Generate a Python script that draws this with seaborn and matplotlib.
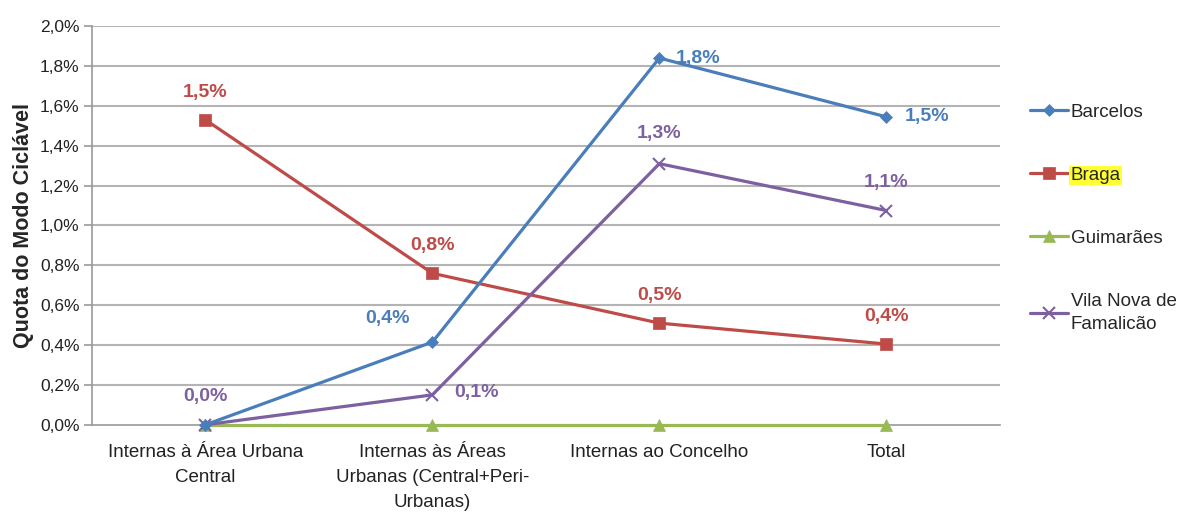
import matplotlib
matplotlib.use("Agg")
import matplotlib.pyplot as plt
import seaborn as sns
import pandas as pd
import numpy as np

categories = ["Internas à Área Urbana\nCentral",
              "Internas às Áreas\nUrbanas (Central+Peri-\nUrbanas)",
              "Internas ao Concelho",
              "Total"]
series_names = ["Barcelos", "Braga", "Guimarães", "Vila Nova de\nFamalicão"]
barcelos = [0.0, 0.415, 1.84, 1.545]
braga = [1.53, 0.76, 0.51, 0.405]
guimaraes = [0.0, 0.0, 0.0, 0.0]
famalicao = [0.0, 0.15, 1.31, 1.075]
barcelos_labels = [None, "0,4%", "1,8%", "1,5%"]
braga_labels = ["1,5%", "0,8%", "0,5%", "0,4%"]
famalicao_labels = ["0,0%", "0,1%", "1,3%", "1,1%"]
yticks = [0.0, 0.2, 0.4, 0.6, 0.8, 1.0, 1.2, 1.4, 1.6, 1.8, 2.0]

sns.set_theme(style="white")
plt.rcParams['font.family'] = ['Liberation Sans', 'DejaVu Sans']

colors = {"Barcelos": "#4A7EBB", "Braga": "#BE4B48", "Guimarães": "#98B954",
          "Vila Nova de\nFamalicão": "#7D60A0"}
markers = {"Barcelos": "D", "Braga": "s", "Guimarães": "^", "Vila Nova de\nFamalicão": "x"}
msizes = {"Barcelos": 6.5, "Braga": 9, "Guimarães": 8, "Vila Nova de\nFamalicão": 9}

fig = plt.figure(figsize=(11.79, 5.13), dpi=100)
ax = fig.add_axes([0.078, 0.172, 0.770, 0.777])

for y in yticks[1:]:
    ax.axhline(y, color="#B4B4B4", lw=1.5, zorder=0)

data = {"Barcelos": barcelos, "Braga": braga, "Guimarães": guimaraes,
        "Vila Nova de\nFamalicão": famalicao}
order = ["Guimarães", "Braga", "Vila Nova de\nFamalicão", "Barcelos"]
x = np.arange(len(categories))
for name in order:
    df = pd.DataFrame({"x": x, "y": data[name]})
    sns.lineplot(data=df, x="x", y="y", ax=ax, color=colors[name], lw=2.3,
                 marker=markers[name], markersize=msizes[name],
                 markeredgecolor=colors[name],
                 markeredgewidth=1.5 if name.startswith("Vila") else 0.5,
                 label=name, zorder=4, clip_on=False)

# data labels
lab_kw = dict(fontsize=14, fontweight="bold", ha="center", va="center")
for i, t in enumerate(braga_labels):
    ax.annotate(t, (x[i], braga[i]), xytext=(0, 20), textcoords="offset points",
                color=colors["Braga"], **lab_kw)
bar_off = [None, (-32, 17), (28, 0), (29, 0)]
for i, t in enumerate(barcelos_labels):
    if t:
        ax.annotate(t, (x[i], barcelos[i]), xytext=bar_off[i], textcoords="offset points",
                    color=colors["Barcelos"], **lab_kw)
fam_off = [(0, 20), (32, 2), (0, 22), (0, 20)]
for i, t in enumerate(famalicao_labels):
    ax.annotate(t, (x[i], famalicao[i]), xytext=fam_off[i], textcoords="offset points",
                color=colors["Vila Nova de\nFamalicão"], **lab_kw)

ax.set_xlim(-0.5, 3.5)
ax.set_ylim(0, 2.0)
ax.set_yticks(yticks)
ax.set_yticklabels([f"{v:.1f}%".replace(".", ",") for v in yticks], fontsize=12.5, color="#222222")
ax.set_xticks(x)
ax.set_xticklabels(categories, fontsize=13.5, color="#222222", va="top", linespacing=1.6)
ax.tick_params(axis="x", length=0, pad=14)
ax.set_xticks([-0.5, 0.5, 1.5, 2.5, 3.5], minor=True)
ax.tick_params(axis="x", which="minor", length=6, color="#999999", width=1.2, direction="out")
ax.tick_params(axis="y", length=6, color="#999999", width=1.2, direction="out", left=True, pad=3)
ax.set_xlabel("")
ax.set_ylabel("Quota do Modo Ciclável", fontsize=15.5, fontweight="bold", labelpad=4)
for s in ["top", "right"]:
    ax.spines[s].set_visible(False)
ax.spines["left"].set_color("#999999")
ax.spines["bottom"].set_color("#999999")
ax.spines["left"].set_linewidth(1.2)
ax.spines["bottom"].set_linewidth(1.2)

handles, labels = ax.get_legend_handles_labels()
hmap = dict(zip(labels, handles))
leg_order = ["Barcelos", "Braga", "Guimarães", "Vila Nova de\nFamalicão"]
leg = ax.legend([hmap[n] for n in leg_order], leg_order, loc="upper left",
                bbox_to_anchor=(1.015, 0.848), frameon=False, fontsize=13.5,
                labelspacing=2.45, handlelength=2.0, handletextpad=0.15)
for t in leg.get_texts():
    t.set_linespacing(1.5)
    if t.get_text() == "Braga":
        t.set_bbox(dict(facecolor="#FFFF33", edgecolor="none", pad=1.0))

fig.savefig("out.png", dpi=100)
